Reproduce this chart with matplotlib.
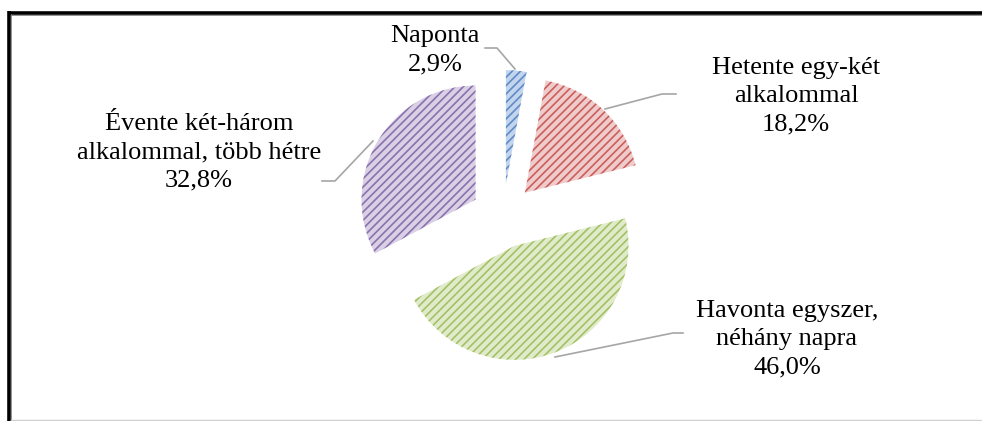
import matplotlib.pyplot as plt

plt.rcParams['font.family'] = ['Liberation Serif', 'DejaVu Serif']
plt.rcParams['hatch.linewidth'] = 1.2

# data
labels = ['Naponta', 'Hetente egy-két\nalkalommal', 'Havonta egyszer,\nnéhány napra',
          'Évente két-három\nalkalommal, több hétre']
values = [2.9, 18.2, 46.0, 32.8]
face_colors = ['#c3d5ee', '#efcccb', '#e1ebcc', '#dad0e6']
hatch_colors = ['#5f8bc6', '#c95f5c', '#a2c263', '#8a71ad']

W, H = 982, 421


# image pixel coords -> data coords (y flipped)
def P(x, y):
    return x, H - y


fig = plt.figure(figsize=(W / 100, H / 100), dpi=100)
ax = fig.add_axes([0, 0, 1, 1])

wedges, _ = ax.pie(values, center=P(503, 216), radius=114, explode=[32] * 4,
                   startangle=90, counterclock=False)
for w, fc, hc in zip(wedges, face_colors, hatch_colors):
    w.set_facecolor(fc)
    w.set_edgecolor(hc)
    w.set_linewidth(0)
    w.set_hatch('////')

ax.set_xlim(0, W)
ax.set_ylim(0, H)
ax.set_aspect('auto')
ax.axis('off')

# labels with leader lines
label_pos = [(435, 50), (796, 96), (787, 339), (199, 152)]
leaders = [
    [(485, 48), (497, 48), (515, 69)],
    [(676, 94), (662, 94), (605, 109)],
    [(683, 333), (673, 333), (555, 357)],
    [(322, 181), (335, 181), (373, 141)],
]
for lab, v, pos, pts in zip(labels, values, label_pos, leaders):
    txt = lab + '\n' + f'{v:.1f}'.replace('.', ',') + '%'
    ax.text(*P(*pos), txt, ha='center', va='center', fontsize=19,
            linespacing=1.37, color='black')
    xs = [p[0] for p in pts]
    ys = [H - p[1] for p in pts]
    ax.plot(xs, ys, color='#a6a6a6', lw=1.2)

# frame
ax.plot([8, W], [H - 12.5, H - 12.5], color='black', lw=2.6, solid_capstyle='butt')
ax.plot([9.5, 9.5], [H - 11, 0], color='black', lw=2.6, solid_capstyle='butt')
ax.plot([11.5, 11.5], [H - 14, 0], color='#808080', lw=0.6)
ax.plot([11, W], [H - 14.5, H - 14.5], color='#808080', lw=0.6)
ax.plot([11, W], [1.5, 1.5], color='#d0d0d0', lw=1.0)

fig.savefig('out.png', dpi=100)
